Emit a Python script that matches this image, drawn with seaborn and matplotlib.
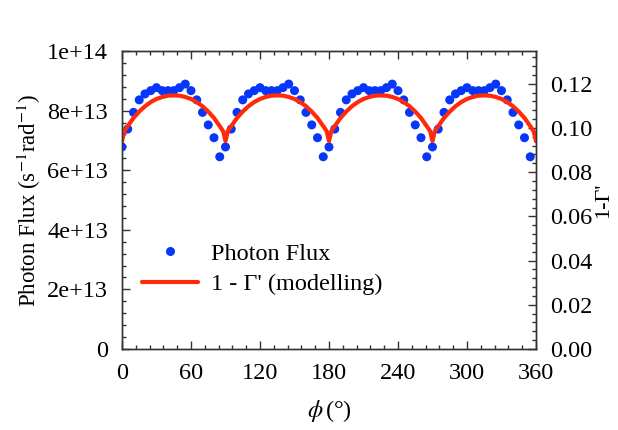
import numpy as np
import pandas as pd
import matplotlib
matplotlib.use("Agg")
import matplotlib.pyplot as plt
import seaborn as sns
from matplotlib.ticker import MultipleLocator, FixedLocator, FixedFormatter
from matplotlib.lines import Line2D

# ---- data ----
phi_meas = [0, 5, 10, 15, 20, 25, 30, 35, 40, 45, 50, 55, 60, 65, 70, 75, 80, 85,
            90, 95, 100, 105, 110, 115, 120, 125, 130, 135, 140, 145, 150, 155, 160, 165, 170, 175,
            180, 185, 190, 195, 200, 205, 210, 215, 220, 225, 230, 235, 240, 245, 250, 255, 260, 265,
            270, 275, 280, 285, 290, 295, 300, 305, 310, 315, 320, 325, 330, 335, 340, 345, 350, 355]
flux_e13 = [6.78, 7.38, 7.94, 8.36, 8.56, 8.67, 8.77, 8.67, 8.67, 8.67, 8.77, 8.89, 8.67, 8.36, 7.94, 7.52, 7.09, 6.45,
            6.78, 7.38, 7.94, 8.36, 8.56, 8.67, 8.77, 8.67, 8.67, 8.67, 8.77, 8.89, 8.67, 8.36, 7.94, 7.52, 7.09, 6.45,
            6.78, 7.38, 7.94, 8.36, 8.56, 8.67, 8.77, 8.67, 8.67, 8.67, 8.77, 8.89, 8.67, 8.36, 7.94, 7.52, 7.09, 6.45,
            6.78, 7.38, 7.94, 8.36, 8.56, 8.67, 8.77, 8.67, 8.67, 8.67, 8.77, 8.89, 8.67, 8.36, 7.94, 7.52, 7.09, 6.45]

phi_model = [0, 2, 5, 10, 15, 20, 25, 30, 35, 40, 45, 50, 55, 60, 65, 70, 75, 80, 85, 88,
             90, 92, 95, 100, 105, 110, 115, 120, 125, 130, 135, 140, 145, 150, 155, 160, 165, 170, 175, 178,
             180, 182, 185, 190, 195, 200, 205, 210, 215, 220, 225, 230, 235, 240, 245, 250, 255, 260, 265, 268,
             270, 272, 275, 280, 285, 290, 295, 300, 305, 310, 315, 320, 325, 330, 335, 340, 345, 350, 355, 358,
             360]
gamma_model = [0.0940, 0.0985, 0.1008, 0.1045, 0.1074, 0.1098, 0.1117, 0.1131, 0.1140, 0.1146,
               0.1147, 0.1146, 0.1140, 0.1131, 0.1117, 0.1098, 0.1074, 0.1045, 0.1008, 0.0985,
               0.0940, 0.0985, 0.1008, 0.1045, 0.1074, 0.1098, 0.1117, 0.1131, 0.1140, 0.1146,
               0.1147, 0.1146, 0.1140, 0.1131, 0.1117, 0.1098, 0.1074, 0.1045, 0.1008, 0.0985,
               0.0940, 0.0985, 0.1008, 0.1045, 0.1074, 0.1098, 0.1117, 0.1131, 0.1140, 0.1146,
               0.1147, 0.1146, 0.1140, 0.1131, 0.1117, 0.1098, 0.1074, 0.1045, 0.1008, 0.0985,
               0.0940, 0.0985, 0.1008, 0.1045, 0.1074, 0.1098, 0.1117, 0.1131, 0.1140, 0.1146,
               0.1147, 0.1146, 0.1140, 0.1131, 0.1117, 0.1098, 0.1074, 0.1045, 0.1008, 0.0985,
               0.0940]

x_ticks = [0, 60, 120, 180, 240, 300, 360]
left_ticks = [0, 2e13, 4e13, 6e13, 8e13, 1e14]
left_labels = ["0", "2e+13", "4e+13", "6e+13", "8e+13", "1e+14"]
right_ticks = [0.00, 0.02, 0.04, 0.06, 0.08, 0.10, 0.12]
right_labels = ["0.00", "0.02", "0.04", "0.06", "0.08", "0.10", "0.12"]

df_meas = pd.DataFrame({"phi": phi_meas, "flux": [v * 1e13 for v in flux_e13]})
df_model = pd.DataFrame({"phi": phi_model, "gamma": gamma_model})

# ---- style ----
sns.set_theme(style="ticks")
plt.rcParams["font.family"] = ["Liberation Serif", "DejaVu Serif"]
plt.rcParams["mathtext.fontset"] = "stix"
plt.rcParams["text.color"] = "black"
plt.rcParams["axes.labelcolor"] = "black"
plt.rcParams["xtick.color"] = "#333333"
plt.rcParams["ytick.color"] = "#333333"
plt.rcParams["xtick.labelcolor"] = "black"
plt.rcParams["ytick.labelcolor"] = "black"

BLUE = "#0536FA"
RED = "#FF2A0A"
SPINE = "#333333"
FS = 17.5

fig = plt.figure(figsize=(6.18, 4.30), dpi=100, facecolor="white")
ax = fig.add_axes([0.1974, 0.1884, 0.6699, 0.6930])
ax2 = ax.twinx()

sns.scatterplot(data=df_meas, x="phi", y="flux", ax=ax, color=BLUE, s=42,
                edgecolor="none", linewidth=0, legend=False, zorder=3)
sns.lineplot(data=df_model, x="phi", y="gamma", ax=ax2, color=RED, lw=3.0,
             legend=False, zorder=2, sort=False)

ax.set_xlim(0, 360)
ax.set_ylim(0, 1e14)
ax2.set_ylim(0, 0.1348)

ax.xaxis.set_major_locator(FixedLocator(x_ticks))
ax.set_xticklabels([str(t) for t in x_ticks])
ax.xaxis.set_minor_locator(MultipleLocator(12))
ax.yaxis.set_major_locator(FixedLocator(left_ticks))
ax.yaxis.set_major_formatter(FixedFormatter(left_labels))
ax.yaxis.set_minor_locator(MultipleLocator(4e12))
ax2.yaxis.set_major_locator(FixedLocator(right_ticks))
ax2.yaxis.set_major_formatter(FixedFormatter(right_labels))
ax2.yaxis.set_minor_locator(MultipleLocator(0.004))

for a in (ax, ax2):
    for sp in a.spines.values():
        sp.set_visible(True)
        sp.set_color(SPINE)
        sp.set_linewidth(1.0)

ax.tick_params(axis="x", which="both", direction="in", top=True, bottom=True,
               color=SPINE, labelsize=FS, pad=10)
ax.tick_params(axis="x", which="major", length=6, width=1)
ax.tick_params(axis="x", which="minor", length=3, width=1)
ax.tick_params(axis="y", which="both", direction="in", left=True, right=False,
               color=SPINE, labelsize=FS, pad=10)
ax.tick_params(axis="y", which="major", length=6, width=1)
ax.tick_params(axis="y", which="minor", length=3, width=1)
ax2.tick_params(axis="y", which="both", direction="in", right=True, left=False,
                color=SPINE, labelsize=FS, pad=10)
ax2.tick_params(axis="y", which="major", length=6, width=1)
ax2.tick_params(axis="y", which="minor", length=3, width=1)

ax.set_xlabel(r"$\phi\,$(°)", fontsize=FS, labelpad=10)
ax.set_ylabel(r"Photon Flux (s$^{-1}$rad$^{-1}$)", fontsize=16.5, labelpad=3)
ax2.set_ylabel("1-Γ'", fontsize=16, labelpad=1)

handles = [Line2D([], [], marker="o", color=BLUE, ls="none", markersize=6.5, markeredgewidth=0),
           Line2D([], [], color=RED, lw=3.0)]
ax2.legend(handles, ["Photon Flux", "1 - Γ' (modelling)"], loc="upper left",
           bbox_to_anchor=(-0.005, 0.43), frameon=False, fontsize=FS,
           handlelength=2.3, handletextpad=0.55, labelspacing=0.35)

fig.savefig("out.png", dpi=100, facecolor="white")
